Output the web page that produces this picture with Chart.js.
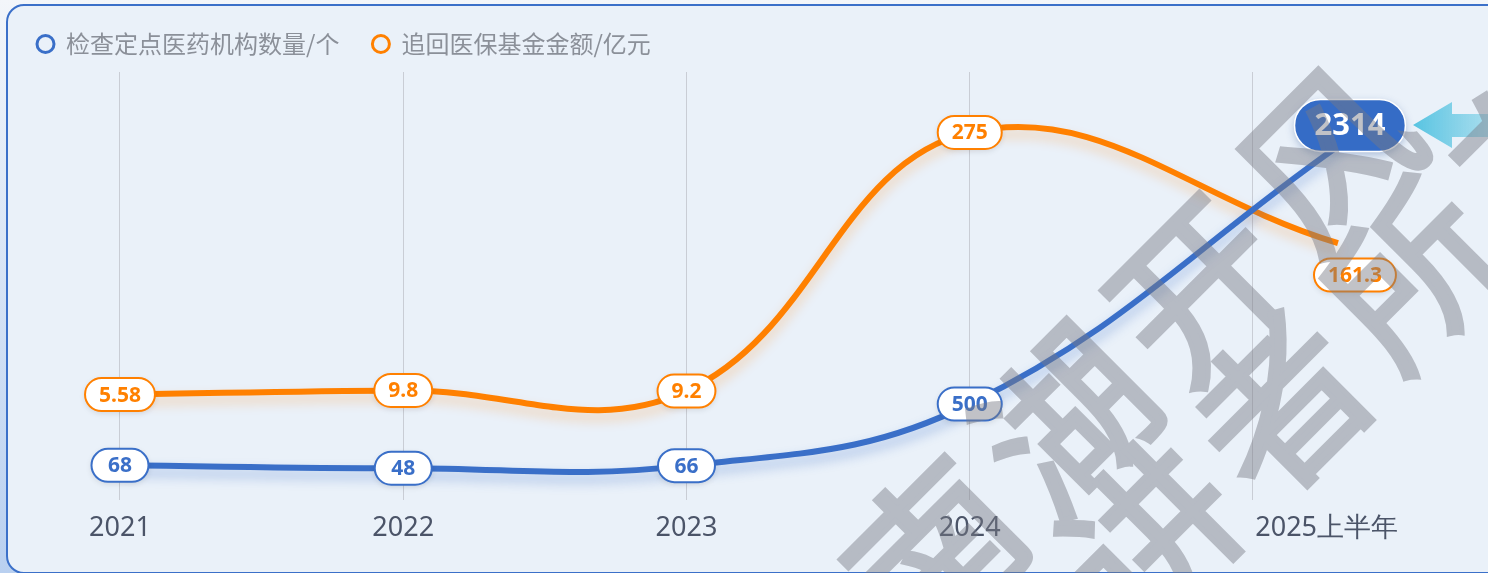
<!DOCTYPE html>
<html>
<head>
<meta charset="utf-8">
<script src="https://cdn.jsdelivr.net/npm/chart.js@4.4.0/dist/chart.umd.min.js"></script>
<style>
html, body { margin: 0; padding: 0; overflow: hidden; width: 1488px; height: 573px; }
body { background: linear-gradient(#f3f6fa, #b9d0f0); }
#box { position: absolute; left: 6px; top: 4px; width: 1600px; height: 566px;
  background: #eaf1f9; border: 2px solid #3b70c9; border-radius: 18px; }
#wrap { position: absolute; left: 0; top: 0; width: 1488px; height: 573px; }
</style>
</head>
<body>
<div id="box"></div>
<div id="wrap"><canvas id="myChart"></canvas></div>
<script>
var categories = ["2021", "2022", "2023", "2024", "2025上半年"];
var xPos = [0, 1, 2, 3, 4.3];
var tickPos = [0, 1, 2, 3, 4, 4.26];
var orgCount = [68, 48, 66, 500, 2314];
var recovered = [5.58, 9.8, 9.2, 275, 161.3];
var seriesNames = ["检查定点医药机构数量/个", "追回医保基金金额/亿元"];
var seriesColors = ["#3a6fc8", "#ff8000"];
var watermark = [["南", "湖", "开", "风"], ["讲", "者", "所", "有"]];

function points(vals) {
  return vals.map(function (v, i) { return { x: xPos[i], y: v }; });
}

function pill(ctx, x, y, w, h) {
  var r = h / 2;
  ctx.beginPath();
  ctx.moveTo(x - w / 2 + r, y - r);
  ctx.lineTo(x + w / 2 - r, y - r);
  ctx.arc(x + w / 2 - r, y, r, -Math.PI / 2, Math.PI / 2);
  ctx.lineTo(x - w / 2 + r, y + r);
  ctx.arc(x - w / 2 + r, y, r, Math.PI / 2, Math.PI * 1.5);
  ctx.closePath();
}

// soft glow under each line
var glow = {
  id: "glow",
  beforeDatasetDraw: function (chart, args) {
    var ctx = chart.ctx;
    ctx.save();
    ctx.shadowColor = args.index === 0 ? "rgba(58,111,200,0.4)" : "rgba(255,128,0,0.3)";
    ctx.shadowBlur = 12;
    ctx.shadowOffsetY = 7;
  },
  afterDatasetDraw: function (chart) { chart.ctx.restore(); }
};

// value labels in rounded boxes
var valueLabels = {
  id: "valueLabels",
  afterDatasetsDraw: function (chart) {
    var ctx = chart.ctx;
    chart.data.datasets.forEach(function (ds, di) {
      var meta = chart.getDatasetMeta(di);
      meta.data.forEach(function (pt, i) {
        var txt = String(ds.data[i].y);
        var last = i === ds.data.length - 1;
        var x = pt.x, y = pt.y;
        ctx.save();
        if (last && di === 0) {
          x += 12; y -= 21;
          ctx.font = "bold 31px 'Noto Sans', sans-serif";
          var w = ctx.measureText(txt).width + 40;
          ctx.shadowColor = "rgba(40,80,150,0.35)";
          ctx.shadowBlur = 8;
          ctx.shadowOffsetY = 3;
          pill(ctx, x, y, w, 52);
          ctx.fillStyle = "#356cc6";
          ctx.fill();
          ctx.shadowColor = "transparent";
          ctx.lineWidth = 1.5;
          ctx.strokeStyle = "#ffffff";
          ctx.stroke();
          ctx.fillStyle = "#ffffff";
        } else {
          if (last) { x += 17; y += 32; }
          ctx.font = "bold 21px 'Noto Sans', sans-serif";
          var w2 = Math.max(ctx.measureText(txt).width + 28, 57);
          ctx.shadowColor = "rgba(0,0,0,0.12)";
          ctx.shadowBlur = 6;
          ctx.shadowOffsetY = 2;
          pill(ctx, x, y, w2, 33);
          ctx.fillStyle = "#ffffff";
          ctx.fill();
          ctx.shadowColor = "transparent";
          ctx.lineWidth = 2;
          ctx.strokeStyle = ds.borderColor;
          ctx.stroke();
          ctx.fillStyle = ds.borderColor;
        }
        ctx.textAlign = "center";
        ctx.textBaseline = "middle";
        ctx.fillText(txt, x, y + 1);
        ctx.restore();
      });
    });
  }
};

// arrow pointer and watermark
var overlay = {
  id: "overlay",
  afterDraw: function (chart) {
    var ctx = chart.ctx;
    ctx.save();
    var g = ctx.createLinearGradient(1413, 0, 1488, 0);
    g.addColorStop(0, "rgba(70,190,222,0.9)");
    g.addColorStop(1, "rgba(150,215,235,0.8)");
    ctx.fillStyle = g;
    ctx.beginPath();
    ctx.moveTo(1413, 125);
    ctx.lineTo(1452, 102);
    ctx.lineTo(1452, 114);
    ctx.lineTo(1488, 114);
    ctx.lineTo(1488, 137);
    ctx.lineTo(1452, 137);
    ctx.lineTo(1452, 148);
    ctx.closePath();
    ctx.fill();

    // watermark drawn opaque off-screen, then laid on with alpha
    var off = document.createElement("canvas");
    off.width = chart.width;
    off.height = chart.height;
    var o = off.getContext("2d");
    o.fillStyle = "#787a84";
    o.strokeStyle = "#787a84";
    o.lineWidth = 5;
    o.lineJoin = "miter";
    o.font = "400 168px 'Noto Sans CJK SC', sans-serif";
    o.textAlign = "center";
    o.textBaseline = "middle";
    var ang = -45 * Math.PI / 180;
    var starts = [[935, 550], [1150, 535]];
    watermark.forEach(function (line, li) {
      line.forEach(function (ch, k) {
        o.save();
        o.translate(starts[li][0] + k * 185 * Math.cos(ang), starts[li][1] + k * 185 * Math.sin(ang));
        o.rotate(ang);
        o.fillText(ch, 0, 0);
        o.strokeText(ch, 0, 0);
        o.restore();
      });
    });
    ctx.globalAlpha = 0.45;
    ctx.drawImage(off, 0, 0, chart.width, chart.height);
    ctx.restore();
  }
};

new Chart("myChart", {
  type: "line",
  data: {
    datasets: [{
      label: seriesNames[0],
      data: points(orgCount),
      borderColor: seriesColors[0],
      backgroundColor: "#eaf1f9",
      borderWidth: 6,
      tension: 0.4,
      pointRadius: 0,
      yAxisID: "y"
    }, {
      label: seriesNames[1],
      data: points(recovered),
      borderColor: seriesColors[1],
      backgroundColor: "#eaf1f9",
      borderWidth: 6,
      tension: 0.4,
      pointRadius: 0,
      yAxisID: "y1"
    }]
  },
  options: {
    responsive: true,
    maintainAspectRatio: false,
    animation: false,
    layout: { padding: { left: 4, right: 0, top: -1, bottom: 28 } },
    plugins: {
      tooltip: { enabled: false },
      legend: {
        position: "top",
        align: "start",
        labels: {
          usePointStyle: true,
          pointStyle: "circle",
          pointStyleWidth: 17,
          boxHeight: 12,
          padding: 33,
          color: "#8b9099",
          font: { size: 24, family: "'Noto Sans CJK SC', sans-serif" },
          generateLabels: function (chart) {
            return chart.data.datasets.map(function (ds, i) {
              return {
                text: ds.label, fillStyle: "#eaf1f9", strokeStyle: ds.borderColor,
                lineWidth: 3, pointStyle: "circle", fontColor: "#8b9099", datasetIndex: i
              };
            });
          }
        }
      }
    },
    scales: {
      x: {
        type: "linear",
        min: -0.4095,
        max: 4.8297,
        afterFit: function (scale) { scale.height = 45; },
        afterBuildTicks: function (scale) {
          scale.ticks = tickPos.map(function (v) { return { value: v }; });
        },
        ticks: {
          autoSkip: false,
          maxRotation: 0,
          padding: 12,
          color: "#4b5468",
          font: { size: 27, family: "'Noto Sans', sans-serif" },
          callback: function (v) {
            if (v === 4) return "";
            var idx = tickPos.indexOf(v);
            return idx === 5 ? categories[4] : categories[idx];
          }
        },
        grid: {
          drawTicks: false,
          lineWidth: 1,
          color: function (c) { return c.tick && c.tick.value === 4.26 ? "rgba(0,0,0,0)" : "#c9cdd5"; }
        },
        border: { display: false }
      },
      // empty strip that keeps the plot below the legend
      xTop: {
        type: "linear",
        position: "top",
        display: true,
        afterFit: function (scale) { scale.height = 6; },
        ticks: { display: false },
        grid: { display: false },
        border: { display: false }
      },
      y: { display: false, min: -176, max: 2838 },
      y1: { display: false, min: -102.8, max: 337.1 }
    }
  },
  plugins: [glow, valueLabels, overlay]
});
</script>
</body>
</html>
